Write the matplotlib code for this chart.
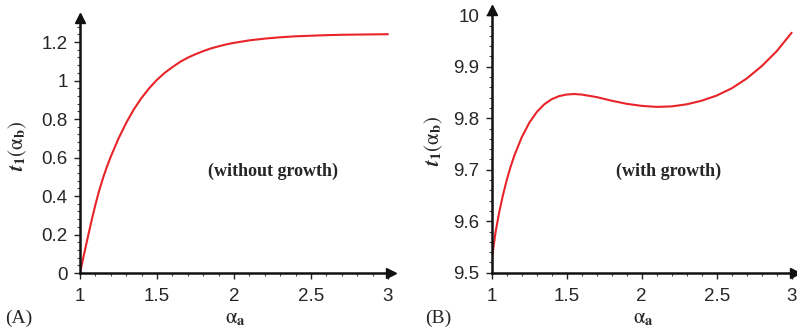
import matplotlib
matplotlib.use("Agg")
import matplotlib.pyplot as plt
from matplotlib.ticker import MultipleLocator

plt.rcParams["mathtext.fontset"] = "stix"
plt.rcParams["font.family"] = ["Liberation Sans", "DejaVu Sans"]

# Panel A: t1(alpha_b) against alpha_a, without growth
alpha_a_A = [1.0, 1.025, 1.05, 1.075, 1.1, 1.125, 1.15, 1.175, 1.2, 1.25, 1.3,
             1.35, 1.4, 1.45, 1.5, 1.55, 1.6, 1.65, 1.7, 1.75, 1.8, 1.85, 1.9,
             1.95, 2.0, 2.1, 2.2, 2.3, 2.4, 2.5, 2.6, 2.7, 2.8, 2.9, 3.0]
t1_A = [0.0, 0.093, 0.184, 0.272, 0.355, 0.430, 0.495, 0.553, 0.605, 0.699,
        0.780, 0.851, 0.910, 0.961, 1.004, 1.040, 1.070, 1.097, 1.119, 1.137,
        1.153, 1.167, 1.178, 1.188, 1.196, 1.209, 1.218, 1.225, 1.230, 1.233,
        1.236, 1.238, 1.239, 1.240, 1.241]

# Panel B: t1(alpha_b) against alpha_a, with growth
alpha_a_B = [1.0, 1.025, 1.05, 1.075, 1.1, 1.125, 1.15, 1.2, 1.25, 1.3, 1.35,
             1.4, 1.45, 1.5, 1.55, 1.6, 1.7, 1.8, 1.9, 2.0, 2.1, 2.2, 2.3,
             2.4, 2.5, 2.6, 2.7, 2.8, 2.9, 3.0]
t1_B = [9.525, 9.578, 9.618, 9.651, 9.680, 9.705, 9.727, 9.763, 9.791, 9.812,
        9.827, 9.837, 9.843, 9.846, 9.847, 9.846, 9.841, 9.834, 9.828, 9.824,
        9.822, 9.823, 9.827, 9.834, 9.844, 9.858, 9.877, 9.901, 9.930, 9.966]

panels = [
    dict(x=alpha_a_A, y=t1_A, rect=[0.1004, 0.1777, 0.3902, 0.768],
         ylim=(0, 1.325), yticks=[0, 0.2, 0.4, 0.6, 0.8, 1, 1.2],
         yticklabels=["0", "0.2", "0.4", "0.6", "0.8", "1", "1.2"],
         yminor=0.04, note="(without growth)", note_xy=(0.62, 0.40),
         tag="(A)", tag_x=0.006, ylabelpad=9),
    dict(x=alpha_a_B, y=t1_B, rect=[0.617, 0.1786, 0.380, 0.791],
         ylim=(9.5, 10.01), yticks=[9.5, 9.6, 9.7, 9.8, 9.9, 10.0],
         yticklabels=["9.5", "9.6", "9.7", "9.8", "9.9", "10"],
         yminor=0.02, note="(with growth)", note_xy=(0.585, 0.385),
         tag="(B)", tag_x=0.533, ylabelpad=6),
]

fig = plt.figure(figsize=(7.97, 3.32), dpi=100)
ink = "#262626"

for p in panels:
    ax = fig.add_axes(p["rect"])
    ax.plot(p["x"], p["y"], color="#e8242a", lw=1.5, solid_capstyle="round")
    ax.set_xlim(1, 3.02)
    ax.set_ylim(*p["ylim"])
    ax.set_xticks([1, 1.5, 2, 2.5, 3])
    ax.set_xticklabels(["1", "1.5", "2", "2.5", "3"])
    ax.set_yticks(p["yticks"])
    ax.set_yticklabels(p["yticklabels"])
    ax.xaxis.set_minor_locator(MultipleLocator(0.1))
    ax.yaxis.set_minor_locator(MultipleLocator(p["yminor"]))
    ax.tick_params(axis="both", which="major", labelsize=13.5, width=1.0,
                   length=4, color="#222222", labelcolor=ink)
    ax.tick_params(axis="both", which="minor", width=0.8, length=2.5,
                   color="#444444")
    ax.tick_params(axis="x", which="major", pad=7)
    ax.tick_params(axis="y", which="major", pad=5)
    for s in ("top", "right"):
        ax.spines[s].set_visible(False)
    for s in ("left", "bottom"):
        ax.spines[s].set_linewidth(1.8)
        ax.spines[s].set_color("#111111")
    # arrowheads at the ends of the axis lines
    ax.plot(1, 0, ">", color="#111111", ms=7, transform=ax.transAxes,
            clip_on=False)
    ax.plot(0, 1, "^", color="#111111", ms=7, transform=ax.transAxes,
            clip_on=False)
    ax.set_xlabel(r"$\mathrm{\alpha}_{\mathbf{a}}$", fontsize=15, labelpad=3,
                  color=ink)
    ax.set_ylabel(r"$\boldsymbol{t}_{\mathbf{1}}(\mathrm{\alpha}_{\mathbf{b}})$",
                  fontsize=15, labelpad=p["ylabelpad"], color=ink)
    ax.text(*p["note_xy"], p["note"], transform=ax.transAxes,
            fontfamily="Liberation Serif", fontweight="bold", fontsize=13,
            ha="center", va="center", color=ink)
    fig.text(p["tag_x"], 0.042, p["tag"], fontfamily="Liberation Serif",
             fontsize=14, ha="left", va="center", color=ink)

fig.savefig("out.png", dpi=100)
